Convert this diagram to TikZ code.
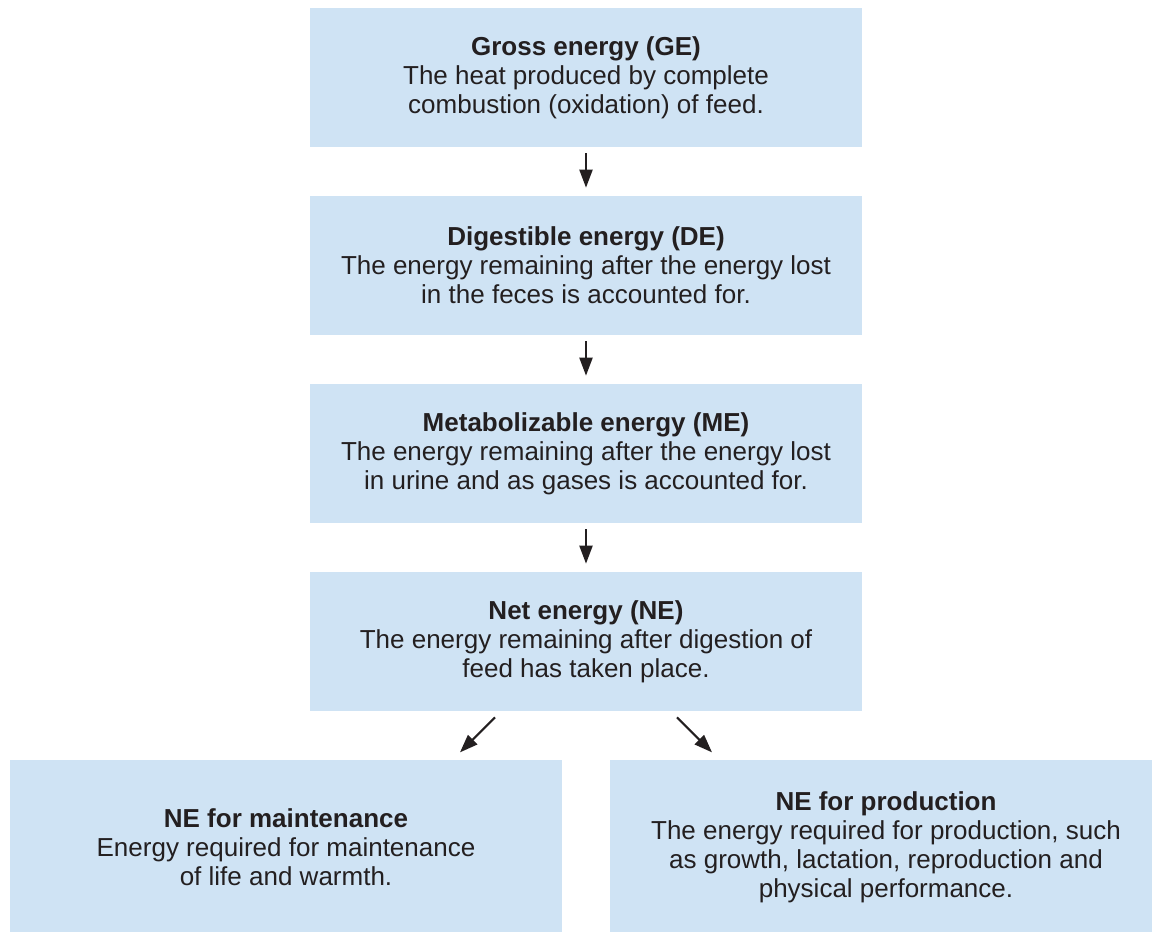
\documentclass[tikz,border=0pt]{standalone}
\usepackage{fontspec}
\setmainfont{Liberation Sans}
\usetikzlibrary{arrows.meta,positioning,calc}
\definecolor{boxblue}{HTML}{CFE3F4}
\definecolor{inkdark}{HTML}{231F20}
\tikzset
{
    energybox/.style = {rectangle, fill=boxblue, align=center, minimum width=11.04cm, minimum height=2.78cm, text=inkdark, font=\fontsize{14.8}{16.5}\selectfont},
    usebox/.style    = {energybox, minimum height=3.48cm},
    arrow/.style     = {line width=1.2pt, draw=inkdark, -{Triangle[length=0.36cm,width=0.26cm]}}
}

\begin{document}
\begin{tikzpicture}[x=0.02cm, y=-0.02cm]
	 \newcommand\BOXDY{188}
	 \newcommand\SIDEDX{300}
	 \newcommand\SIDEDY{205.5}

	 \useasboundingbox (0,0) rectangle (1152,931);
	 \clip (0,0) rectangle (1152,931);

   \node (ge)	[energybox] 		at (586, 77.5)                            	{\textbf{Gross energy (GE)} \\ The heat produced by complete \\ combustion (oxidation) of feed.};
   \node (de)	[energybox] 		at ([shift=({0, \BOXDY})]ge)              	{\textbf{Digestible energy (DE)} \\ The energy remaining after the energy lost \\ in the feces is accounted for.};
	 \node (me)	[energybox] 		at ([shift=({0, \BOXDY})]de)              	{\textbf{Metabolizable energy (ME)} \\ The energy remaining after the energy lost \\ in urine and as gases is accounted for.};
	 \node (ne)	[energybox] 		at ([shift=({0, \BOXDY})]me)              	{\textbf{Net energy (NE)} \\ The energy remaining after digestion of \\ feed has taken place.};
	 \node (nem) [usebox] 		at ([shift=({-\SIDEDX, \SIDEDY})]ne)      	{\textbf{NE for maintenance} \\ Energy required for maintenance \\ of life and warmth.};
	 \node (nep) [usebox] 		at ([shift=({ \SIDEDX, \SIDEDY})]ne)      	{\textbf{NE for production} \\ The energy required for production, such \\ as growth, lactation, reproduction and \\ physical performance.};

	 \coordinate (mfrom) at ($(ne.south)+(-91,6)$);
	 \coordinate (mto)   at ($(ne.south)+(-126,41)$);
	 \coordinate (pfrom) at ($(ne.south)+(91,6)$);
	 \coordinate (pto)   at ($(ne.south)+(126,41)$);

	 \path[every edge/.style={draw, arrow, shorten <=0.12cm, shorten >=0.16cm}]
	    (ge.south)  edge  node {} (de.north)
		  (de.south)  edge  node {} (me.north)
			(me.south)  edge  node {} (ne.north);
	 \path
			(mfrom)     edge[arrow]  node {} (mto)
			(pfrom)     edge[arrow]  node {} (pto);
\end{tikzpicture}
\end{document}
